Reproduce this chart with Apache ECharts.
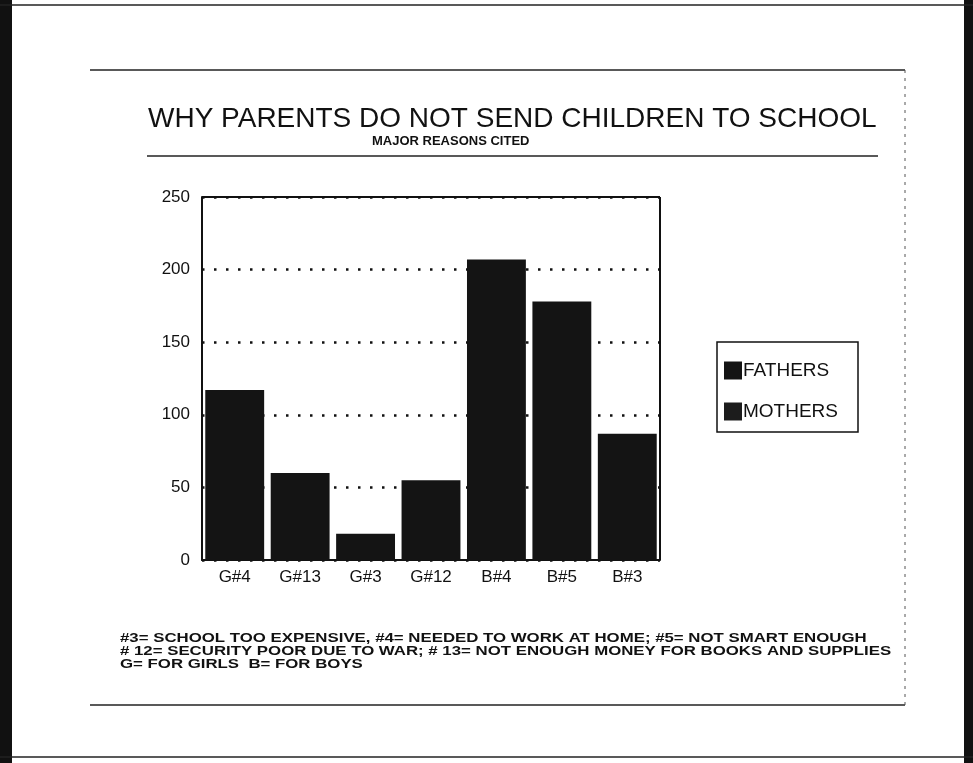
<!DOCTYPE html>
<html>
<head>
<meta charset="utf-8">
<script src="https://cdn.jsdelivr.net/npm/echarts@6/dist/echarts.min.js"></script>
<style>
  html, body { margin: 0; padding: 0; background: #fff; }
  #chart { width: 973px; height: 763px; }
</style>
</head>
<body>
<div id="chart"></div>
<script>
// categories: G = for girls, B = for boys, #n = reason code
const categories = ['G#4', 'G#13', 'G#3', 'G#12', 'B#4', 'B#5', 'B#3']
const seriesNames = ['FATHERS', 'MOTHERS']
// bar heights (bars look like one solid block each)
const fathersValues = [117, 60, 18, 55, 207, 178, 87]
const mothersValues = []
const yTicks = [0, 50, 100, 150, 200, 250]
const footnotes = [
  '#3= SCHOOL TOO EXPENSIVE, #4= NEEDED TO WORK AT HOME; #5= NOT SMART ENOUGH',
  '# 12= SECURITY POOR DUE TO WAR; # 13= NOT ENOUGH MONEY FOR BOOKS AND SUPPLIES',
  'G= FOR GIRLS  B= FOR BOYS'
]

const font = '"Liberation Sans", Arial, sans-serif'
const chart = echarts.init(document.getElementById('chart'))

chart.setOption({
  backgroundColor: '#fff',
  animation: false,
  title: [
    {
      text: 'WHY PARENTS DO NOT SEND CHILDREN TO SCHOOL',
      left: 148,
      top: 105,
      padding: 0,
      textStyle: { fontFamily: font, fontSize: 28, fontWeight: 'normal', color: '#111' }
    },
    {
      text: 'MAJOR REASONS CITED',
      left: 372,
      top: 135,
      padding: 0,
      textStyle: { fontFamily: font, fontSize: 13, fontWeight: 'bold', color: '#111' }
    }
  ],
  legend: {
    orient: 'vertical',
    left: 717,
    top: 342,
    padding: [19, 20, 11, 7],
    itemGap: 22,
    itemWidth: 18,
    itemHeight: 18,
    borderColor: '#111',
    borderWidth: 1.5,
    icon: 'rect',
    data: seriesNames,
    textStyle: { fontFamily: font, fontSize: 19, color: '#111', padding: [0, 0, 0, -4] }
  },
  grid: { left: 202, right: 313, top: 197, bottom: 203 },
  xAxis: {
    type: 'category',
    data: categories,
    axisLine: { lineStyle: { color: '#111', width: 2 } },
    axisTick: { show: false },
    axisLabel: { fontFamily: font, fontSize: 17, color: '#111', margin: 9 }
  },
  yAxis: {
    type: 'value',
    min: yTicks[0],
    max: yTicks[yTicks.length - 1],
    interval: 50,
    axisLine: { show: true, lineStyle: { color: '#111', width: 2 } },
    axisTick: { show: false },
    axisLabel: { fontFamily: font, fontSize: 17, color: '#111', margin: 12 },
    splitLine: { show: true, lineStyle: { color: '#111', type: [2.5, 9.5], width: 2.5 } }
  },
  series: [
    {
      name: seriesNames[0],
      type: 'bar',
      stack: 'total',
      data: fathersValues,
      barCategoryGap: '10%',
      itemStyle: { color: '#141414' }
    },
    {
      name: seriesNames[1],
      type: 'bar',
      stack: 'total',
      data: mothersValues,
      itemStyle: { color: '#1c1c1c' }
    }
  ],
  graphic: [
    // outer page frame
    { type: 'rect', shape: { x: 0, y: 0, width: 12, height: 763 }, style: { fill: '#111' } },
    { type: 'rect', shape: { x: 964, y: 0, width: 9, height: 763 }, style: { fill: '#111' } },
    { type: 'line', shape: { x1: 0, y1: 5, x2: 973, y2: 5 }, style: { stroke: '#222', lineWidth: 1.5 } },
    { type: 'line', shape: { x1: 0, y1: 757, x2: 973, y2: 757 }, style: { stroke: '#222', lineWidth: 1.5 } },
    // inner slide frame
    { type: 'line', shape: { x1: 90, y1: 70, x2: 905, y2: 70 }, style: { stroke: '#222', lineWidth: 1.5 } },
    { type: 'line', shape: { x1: 90, y1: 705, x2: 905, y2: 705 }, style: { stroke: '#222', lineWidth: 1.5 } },
    { type: 'line', shape: { x1: 905, y1: 70, x2: 905, y2: 705 }, style: { stroke: '#555', lineWidth: 1, lineDash: [3, 5] } },
    { type: 'line', shape: { x1: 147, y1: 156, x2: 878, y2: 156 }, style: { stroke: '#222', lineWidth: 1.5 } },
    // plot frame top and right
    { type: 'line', shape: { x1: 202, y1: 197, x2: 660, y2: 197 }, style: { stroke: '#111', lineWidth: 2 } },
    { type: 'line', shape: { x1: 660, y1: 197, x2: 660, y2: 560 }, style: { stroke: '#111', lineWidth: 2 } },
    // footnotes
    {
      type: 'group',
      left: 120,
      top: 631,
      children: footnotes.map((t, i) => ({
        type: 'text',
        y: i * 13.3,
        scaleX: 1.245,
        style: { text: t, fontFamily: font, fontSize: 13.5, fontWeight: 'bold', fill: '#111' }
      }))
    }
  ]
})
</script>
</body>
</html>
